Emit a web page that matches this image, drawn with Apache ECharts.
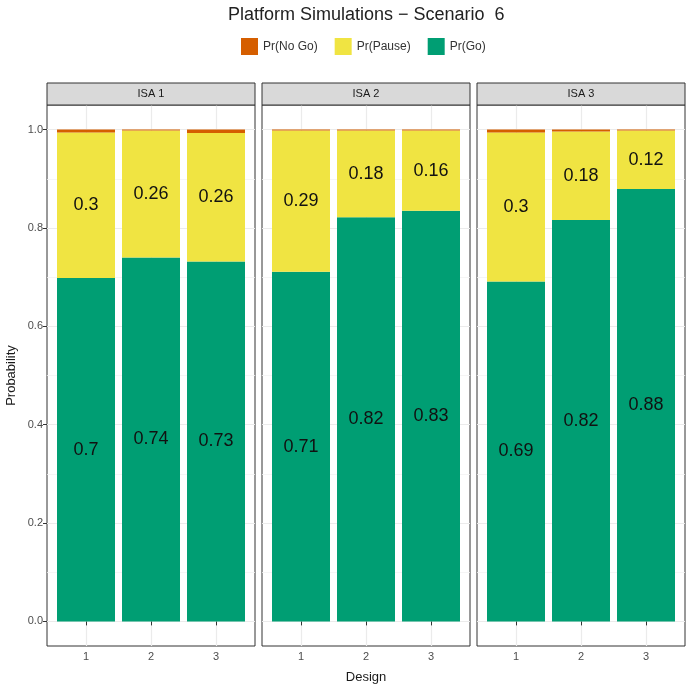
<!DOCTYPE html>
<html>
<head>
<meta charset="utf-8">
<script src="https://cdn.jsdelivr.net/npm/echarts@6/dist/echarts.min.js"></script>
<style>html,body{margin:0;padding:0;background:#fff}#c{width:689px;height:687px}</style>
</head>
<body>
<div id="c"></div>
<script>
// ---- data ----
const designs = [1, 2, 3];
const isaNames = ['ISA 1', 'ISA 2', 'ISA 3'];
const prGo    = [[0.698, 0.740, 0.732], [0.711, 0.822, 0.835], [0.691, 0.816, 0.879]];
const prPause = [[0.296, 0.258, 0.261], [0.287, 0.176, 0.163], [0.303, 0.180, 0.119]];
const prNoGo  = [[0.006, 0.002, 0.007], [0.002, 0.002, 0.002], [0.006, 0.004, 0.002]];
const yMajorTicks = [0, 0.2, 0.4, 0.6, 0.8, 1.0];
const yMinorTicks = [0.1, 0.3, 0.5, 0.7, 0.9];
const seriesNames = ['Pr(Go)', 'Pr(Pause)', 'Pr(No Go)'];
const legendOrder = ['Pr(No Go)', 'Pr(Pause)', 'Pr(Go)'];

// ---- style ----
const FONT = 'Liberation Sans, Arial, Helvetica, sans-serif';
const colors = {'Pr(Go)': '#009E73', 'Pr(Pause)': '#F0E442', 'Pr(No Go)': '#D55E00'};
const panelLefts = [47, 262, 477];
const panelW = 208, panelTop = 105, panelH = 541, stripH = 22;

const grids = [], xAxes = [], yAxes = [], series = [], graphics = [];
const fmt = p => String(+p.value[0].toFixed(2));

isaNames.forEach((isa, i) => {
  grids.push({left: panelLefts[i], top: panelTop, width: panelW, height: panelH,
    containLabel: false, outerBoundsMode: 'none',
    show: true, backgroundColor: '#fff', borderColor: '#333333', borderWidth: 1});
  xAxes.push({type: 'value', gridIndex: i, min: 0.4, max: 3.6,
    axisLine: {show: false},
    axisTick: {show: true, length: 4, customValues: designs, lineStyle: {color: '#333333'}},
    axisLabel: {customValues: designs, color: '#4D4D4D', fontSize: 11, fontFamily: FONT, margin: 5,
      formatter: v => String(v)},
    splitLine: {show: true, lineStyle: {color: '#EBEBEB', width: 1.2}},
    name: i === 1 ? 'Design' : '', nameLocation: 'middle', nameGap: 25,
    nameTextStyle: {fontSize: 13, color: '#1A1A1A', fontFamily: FONT}
  });
  yAxes.push({type: 'value', gridIndex: i, min: -0.05, max: 1.05,
    axisLine: {show: false},
    axisTick: {show: i === 0, length: 4, customValues: yMajorTicks, lineStyle: {color: '#333333'}},
    axisLabel: {show: i === 0, customValues: yMajorTicks, color: '#4D4D4D', fontSize: 11,
      fontFamily: FONT, margin: 4, formatter: v => v.toFixed(1)},
    splitLine: {show: true, lineStyle: {color: '#EBEBEB', width: 1.2}},
    name: i === 0 ? 'Probability' : '', nameLocation: 'middle', nameGap: 29,
    nameTextStyle: {fontSize: 13, color: '#1A1A1A', fontFamily: FONT}
  });
  // minor grid lines
  yAxes.push({type: 'value', gridIndex: i, min: -0.05, max: 1.05, position: 'left',
    axisLine: {show: false},
    axisTick: {show: false, customValues: yMinorTicks},
    axisLabel: {show: false, customValues: yMinorTicks},
    splitLine: {show: true, lineStyle: {color: '#F2F2F2', width: 0.8}}
  });
  const vals = {'Pr(Go)': prGo[i], 'Pr(Pause)': prPause[i], 'Pr(No Go)': prNoGo[i]};
  seriesNames.forEach(name => {
    series.push({
      type: 'bar', name, stack: 'isa' + i, xAxisIndex: i, yAxisIndex: 2 * i,
      barWidth: 58, z: 3,
      dimensions: ['prob', 'design'],
      encode: {x: 'design', y: 'prob'},
      data: designs.map((d, j) => [vals[name][j], d]),
      itemStyle: {color: colors[name]},
      label: {show: name !== 'Pr(No Go)', position: 'inside', fontSize: 18, color: '#111',
        fontFamily: FONT, formatter: fmt},
      emphasis: {disabled: true}
    });
  });
  graphics.push({type: 'rect', x: panelLefts[i], y: panelTop - stripH,
    shape: {x: 0, y: 0, width: panelW, height: stripH},
    style: {fill: '#D9D9D9', stroke: '#333333', lineWidth: 1}, z: 10});
  graphics.push({type: 'text', x: panelLefts[i] + panelW / 2, y: panelTop - stripH / 2,
    style: {text: isa, fill: '#1A1A1A', font: '11px ' + FONT, align: 'center', verticalAlign: 'middle'}, z: 11});
});

const chart = echarts.init(document.getElementById('c'), null, {renderer: 'canvas'});
chart.setOption({
  animation: false,
  backgroundColor: '#fff',
  title: {text: 'Platform Simulations \u2212 Scenario  6', left: 228, top: 6, padding: 0,
    textStyle: {fontSize: 18, fontWeight: 'normal', color: '#222', fontFamily: FONT}},
  legend: {data: legendOrder, left: 241, top: 38, padding: 0, itemWidth: 17, itemHeight: 17,
    itemGap: 17, icon: 'rect', selectedMode: false,
    textStyle: {fontSize: 12, color: '#333', fontFamily: FONT}},
  grid: grids, xAxis: xAxes, yAxis: yAxes, series, graphic: graphics
});
</script>
</body>
</html>
